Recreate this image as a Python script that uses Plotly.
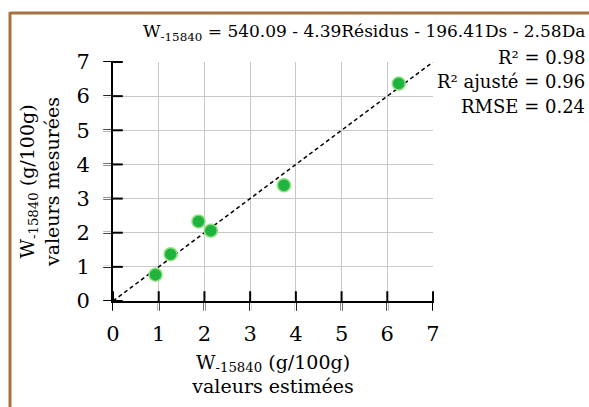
import plotly.graph_objects as go

# Data
estimated = [0.93, 1.26, 1.87, 2.14, 3.74, 6.25]
measured = [0.77, 1.37, 2.33, 2.06, 3.39, 6.37]
ref_line = [0, 7]
ticks = [0, 1, 2, 3, 4, 5, 6, 7]

FONT = "DejaVu Serif"
W, H = 589, 407
L, R, T, B = 113, 156, 62, 106
pw, ph = W - L - R, H - T - B

def px(x):
    return (x - L) / pw

def py(y):
    return (H - B - y) / ph

fig = go.Figure()
fig.add_trace(go.Scatter(x=ref_line, y=ref_line, mode="lines",
                         line=dict(color="black", width=1.5, dash="4px,3px"),
                         showlegend=False, hoverinfo="skip"))
fig.add_trace(go.Scatter(x=estimated, y=measured, mode="markers",
                         marker=dict(size=13, color="#1fb33f",
                                     line=dict(color="#8ee07e", width=1.5)),
                         showlegend=False))
# crossing tick marks on both axes
fig.add_trace(go.Scatter(x=ticks, y=[0] * len(ticks), mode="markers", cliponaxis=False,
                         marker=dict(symbol="line-ns", size=14,
                                     line=dict(color="black", width=2)),
                         showlegend=False, hoverinfo="skip"))
fig.add_trace(go.Scatter(x=[0] * len(ticks), y=ticks, mode="markers", cliponaxis=False,
                         marker=dict(symbol="line-ew", size=14,
                                     line=dict(color="black", width=2)),
                         showlegend=False, hoverinfo="skip"))

axis_common = dict(range=[0, 7], tickvals=ticks, showgrid=True, gridcolor="#c8c8c8",
                   gridwidth=1, zeroline=False, showline=True, linecolor="black",
                   linewidth=2, ticks="outside", tickwidth=0, tickcolor="white",
                   tickfont=dict(family=FONT, size=21, color="black"), fixedrange=True)

fig.update_layout(
    width=W, height=H,
    margin=dict(l=L, r=R, t=T, b=B, pad=0),
    paper_bgcolor="white", plot_bgcolor="white",
    font=dict(family=FONT, color="black"),
    xaxis=dict(**axis_common, ticklen=13,
               title=dict(text="W<sub>-15840</sub> (g/100g)<br>valeurs estimées",
                          font=dict(family=FONT, size=19), standoff=10)),
    yaxis=dict(**axis_common, ticklen=17,
               title=dict(text="W<sub>-15840</sub> (g/100g)<br>valeurs mesurées",
                          font=dict(family=FONT, size=19), standoff=12)),
    shapes=[
        dict(type="line", xref="paper", yref="paper", x0=px(10), x1=px(589),
             y0=py(13), y1=py(13), line=dict(color="#a6733f", width=3)),
        dict(type="line", xref="paper", yref="paper", x0=px(10), x1=px(10),
             y0=py(12), y1=py(407), line=dict(color="#a6733f", width=3)),
    ],
    annotations=[
        dict(text="W<sub>-15840</sub> = 540.09 - 4.39Résidus - 196.41Ds - 2.58Da",
             xref="paper", yref="paper", x=px(587), y=py(32), xanchor="right",
             yanchor="middle", showarrow=False, font=dict(family=FONT, size=17)),
        dict(text="R² = 0.98", xref="paper", yref="paper", x=px(587), y=py(57),
             xanchor="right", yanchor="middle", showarrow=False,
             font=dict(family=FONT, size=18)),
        dict(text="R² ajusté = 0.96", xref="paper", yref="paper", x=px(587), y=py(81),
             xanchor="right", yanchor="middle", showarrow=False,
             font=dict(family=FONT, size=18)),
        dict(text="RMSE = 0.24", xref="paper", yref="paper", x=px(587), y=py(106),
             xanchor="right", yanchor="middle", showarrow=False,
             font=dict(family=FONT, size=18)),
    ],
)

fig.write_html("out.html")
